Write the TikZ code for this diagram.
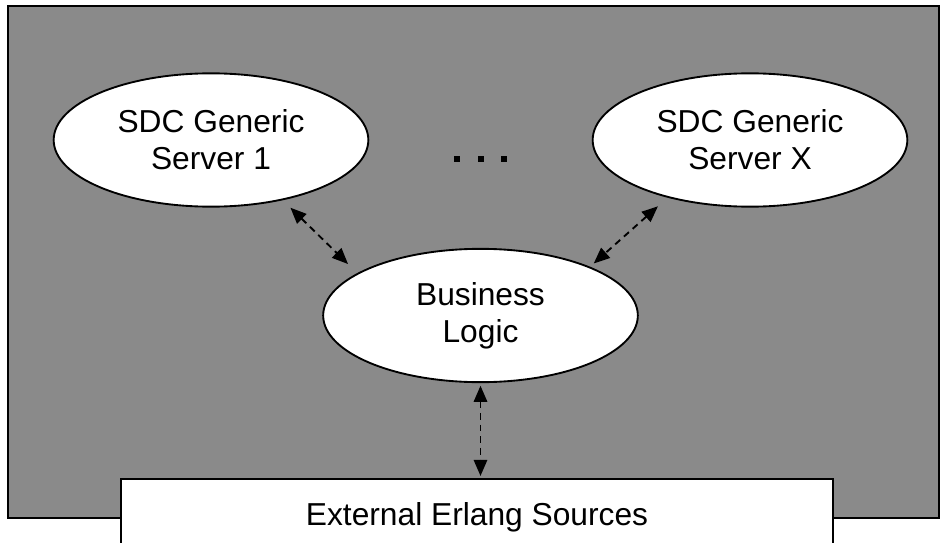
\documentclass[tikz,border=0pt]{standalone}
\usepackage{fontspec}
\setmainfont{Liberation Sans}
\usetikzlibrary{arrows.meta,shapes.geometric}

\definecolor{hatchgray}{RGB}{138,138,138}

\begin{document}
\begin{tikzpicture}[
        x=0.75pt, y=-0.75pt,
        every node/.style={font=\fontsize{23.8}{27.75}\selectfont, align=center},
        server/.style={draw, ellipse, fill=white, line width=1.4pt, inner sep=0pt, minimum width=236pt, minimum height=100pt},
        source/.style={draw, rectangle, fill=white, line width=1.6pt, inner sep=0pt, minimum width=534pt, minimum height=57pt},
        link/.style={dash pattern=on 5pt off 3.75pt, line width=1.4pt, {Triangle[length=12pt,width=10pt]}-{Triangle[length=12pt,width=10pt]}}
    ]
    \useasboundingbox (0,0) rectangle (940,543);

    % Background
    \draw[line width=1.6pt, fill=hatchgray] (8,6) rectangle (939,518);

    % Nodes
    \node[server] (srv1) at (211,140) {SDC Generic\\Server 1};
    \node[server] (srvx) at (750,140) {SDC Generic\\Server X};
    \node[server] (logic) at (480.5,315.5) {Business\\Logic};
    \node[source] (ext) at (477,517) {External Erlang Sources};

    % Dots
    \foreach \i/\px in {1/457, 2/481, 3/504}
        \node[fill=black, inner sep=0pt, minimum size=5pt] (dot\i) at (\px,159) {};

    % Edges
    \draw[link, shorten <=8pt, shorten >=9.7pt] (srv1.-40) -- (logic.161);
    \draw[link, shorten <=9.7pt, shorten >=3.7pt] (srvx.-145) -- (logic.24);
    \draw[link, shorten <=2pt, shorten >=1.5pt] (logic.south) -- (logic.south |- ext.north);

\end{tikzpicture}
\end{document}
